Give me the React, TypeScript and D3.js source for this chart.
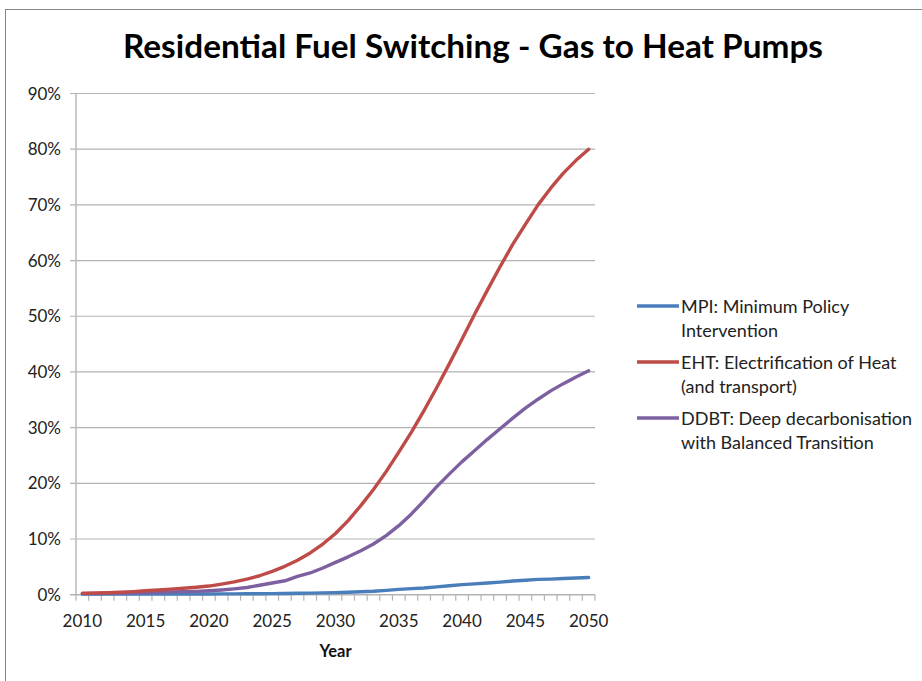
import React from "react";
import * as d3 from "d3";

const years: number[] = d3.range(2010, 2051);

const mpi: number[] = [
  0.1, 0.1, 0.1, 0.1, 0.1, 0.1, 0.1, 0.1, 0.12, 0.12,
  0.13, 0.14, 0.15, 0.16, 0.17, 0.2, 0.22, 0.25, 0.28, 0.32,
  0.38, 0.45, 0.52, 0.62, 0.78, 0.95, 1.1, 1.2, 1.4, 1.6,
  1.8, 1.95, 2.1, 2.25, 2.45, 2.6, 2.75, 2.8, 2.9, 3.0,
  3.1,
];

const eht: number[] = [
  0.25, 0.3, 0.35, 0.45, 0.55, 0.7, 0.85, 1.0, 1.15, 1.35,
  1.55, 1.9, 2.3, 2.8, 3.4, 4.2, 5.1, 6.2, 7.5, 9.1,
  11.0, 13.3, 16.0, 18.9, 22.1, 25.6, 29.2, 33.1, 37.2, 41.5,
  45.9, 50.4, 54.7, 58.9, 62.9, 66.5, 70.0, 73.0, 75.7, 78.0,
  80.0,
];

const ddbt: number[] = [
  0.2, 0.2, 0.25, 0.3, 0.35, 0.4, 0.45, 0.5, 0.55, 0.6,
  0.7, 0.85, 1.05, 1.3, 1.7, 2.1, 2.5, 3.3, 3.9, 4.8,
  5.8, 6.8, 7.9, 9.1, 10.6, 12.4, 14.5, 16.9, 19.4, 21.7,
  23.9, 25.9, 27.9, 29.8, 31.7, 33.5, 35.1, 36.6, 37.9, 39.1,
  40.2,
];

const yTicks: number[] = [0, 10, 20, 30, 40, 50, 60, 70, 80, 90];
const xLabelYears: number[] = [2010, 2015, 2020, 2025, 2030, 2035, 2040, 2045, 2050];

const seriesNames: string[][] = [
  ["MPI: Minimum Policy", "Intervention"],
  ["EHT: Electrification of Heat", "(and transport)"],
  ["DDBT: Deep decarbonisation", "with Balanced Transition"],
];
const seriesColors: string[] = ["#4a7ebb", "#be4b48", "#7d60a0"];
const seriesData: number[][] = [mpi, eht, ddbt];

const FONT = "Lato, 'Open Sans', sans-serif";

export default function App() {
  const W = 922;
  const H = 681;
  const left = 76;
  const right = 595;
  const top = 93.5;
  const bottom = 594.7;

  const xBand = d3
    .scaleBand<number>()
    .domain(years)
    .range([left, right])
    .paddingInner(0)
    .paddingOuter(0);
  const xc = (yr: number) => (xBand(yr) as number) + xBand.bandwidth() / 2;
  const y = d3.scaleLinear().domain([0, 90]).range([bottom, top]);

  const line = d3
    .line<number>()
    .x((_, i) => xc(years[i]))
    .y((v) => y(v));

  const boundaries = d3.range(0, years.length + 1).map((i) => left + i * xBand.bandwidth());

  const legendY = [306, 362, 418];

  return (
    <div style={{ position: "fixed", left: 0, top: 0, width: W, height: H, background: "#fff" }}>
      <svg width={W} height={H} style={{ display: "block" }}>
        <rect x={0} y={0} width={W} height={H} fill="#fff" />
        <rect x={5.5} y={9.5} width={W + 20} height={H + 20} fill="none" stroke="#868686" strokeWidth={1} />

        <text
          x={473}
          y={58}
          textAnchor="middle"
          fontFamily={FONT}
          fontWeight={700}
          fontSize={33}
          textLength={700}
          lengthAdjust="spacingAndGlyphs"
          fill="#000"
        >
          Residential Fuel Switching - Gas to Heat Pumps
        </text>

        {yTicks.map((t) => (
          <g key={t}>
            {t > 0 && (
              <line x1={70} x2={right} y1={y(t)} y2={y(t)} stroke="#b3b3b3" strokeWidth={1.2} />
            )}
            <text
              x={61}
              y={y(t) + 6}
              textAnchor="end"
              fontFamily={FONT}
              fontSize={17}
              fill="#222"
            >
              {t}%
            </text>
          </g>
        ))}

        <line x1={left} x2={left} y1={top} y2={bottom} stroke="#bdbdbd" strokeWidth={1.6} />
        <line x1={70} x2={right} y1={bottom} y2={bottom} stroke="#b3b3b3" strokeWidth={1.4} />
        {boundaries.map((bx, i) => (
          <line key={i} x1={bx} x2={bx} y1={bottom} y2={bottom + 6} stroke="#b3b3b3" strokeWidth={1.2} />
        ))}

        {xLabelYears.map((yr) => (
          <text
            key={yr}
            x={xc(yr)}
            y={627}
            textAnchor="middle"
            fontFamily={FONT}
            fontSize={17}
            fill="#222"
          >
            {yr}
          </text>
        ))}
        <text
          x={(left + right) / 2}
          y={657}
          textAnchor="middle"
          fontFamily={FONT}
          fontWeight={700}
          fontSize={16.5}
          fill="#111"
        >
          Year
        </text>

        {[0, 2, 1].map((si) => (
          <path
            key={si}
            d={line(seriesData[si]) as string}
            fill="none"
            stroke={seriesColors[si]}
            strokeWidth={3.4}
            strokeLinejoin="round"
            strokeLinecap="round"
          />
        ))}

        {seriesNames.map((lines, i) => (
          <g key={i}>
            <line x1={637} x2={679} y1={legendY[i]} y2={legendY[i]} stroke={seriesColors[i]} strokeWidth={3.4} />
            {lines.map((s, j) => (
              <text
                key={j}
                x={681}
                y={legendY[i] + 6.5 + j * 24}
                fontFamily={FONT}
                fontSize={18}
                fill="#222"
              >
                {s}
              </text>
            ))}
          </g>
        ))}
      </svg>
    </div>
  );
}
